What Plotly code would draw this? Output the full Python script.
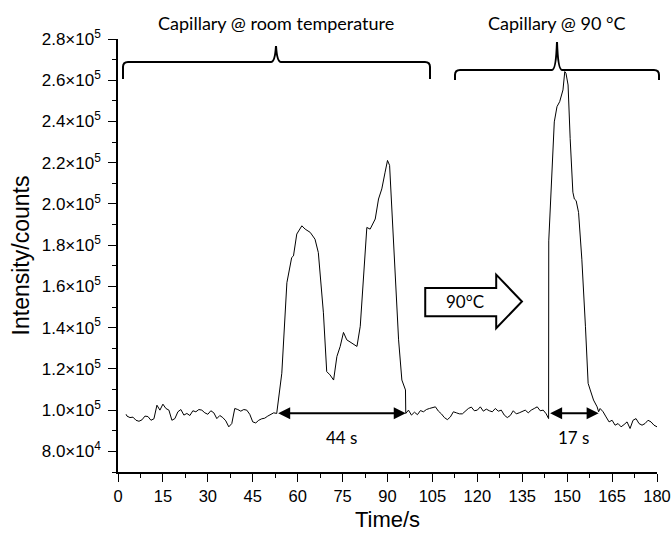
import plotly.graph_objects as go

# ---- data (time in s, intensity in counts) ----
time_s = [2.7, 3, 4, 5, 6, 7, 8, 9, 10, 11, 12, 13, 14, 15, 16, 17, 18, 19, 20,
          21, 22, 23, 24, 25, 26, 27, 28, 29, 30, 31, 32, 33, 34, 35, 36, 37, 38,
          39, 40, 41, 42, 43, 44, 45, 46, 47, 48, 49, 50, 51, 52, 53,
          54.7, 56.4, 58.0, 58.6, 59.7, 61.4, 62.5, 64.2, 65.8, 66.9, 67.5, 68.6,
          69.7, 70.8, 72.0, 73.1, 74.2, 75.3, 76.4, 78.1, 79.8, 80.9, 82.0, 83.1,
          84.2, 85.9, 87.0, 88.1, 89.2, 90.0, 90.7, 91.4, 92.6, 93.7, 94.8, 95.6,
          96.0, 96.1, 97, 98, 99, 100, 101, 102, 103, 104, 105, 106, 107, 108,
          109, 110, 111, 112, 113, 114, 115, 116, 117, 118, 119, 120, 121, 122,
          123, 124, 125, 126, 127, 128, 129, 130, 131, 132, 133, 134, 135, 136,
          137, 138, 139, 140, 141, 142, 143, 143.8, 143.85,
          145.7, 146.6, 147.5, 148.6, 149.2, 149.6, 150.3, 151.0, 151.9, 152.4,
          153.0, 153.8, 154.9, 156.1, 157.0, 157.7, 158.8, 160.0, 160.5,
          161, 162, 163, 164, 165, 166, 167, 168, 169, 170, 171, 172, 173, 174,
          175, 176, 177, 178, 179, 180]

intensity_k = [98.0, 97.1, 96.4, 96.6, 95.1, 94.6, 95.3, 97.1, 96.9, 95.1, 95.8,
               102.4, 100.0, 102.9, 100.8, 100.0, 95.1, 95.9, 99.2, 100.3, 97.6,
               98.4, 97.4, 99.7, 99.2, 100.3, 100.0, 98.7, 98.0, 99.7, 98.7, 95.9,
               97.4, 96.4, 94.8, 91.9, 93.5, 100.8, 100.3, 99.5, 100.3, 100.0,
               98.0, 94.3, 93.8, 95.1, 95.8, 96.1, 97.1, 98.0, 98.7, 98.4,
               117.9, 161.8, 174.0, 174.8, 185.4, 189.4, 187.8, 186.2, 182.9,
               176.4, 166.7, 147.2, 118.7, 117.1, 114.6, 126.0, 130.9, 137.7,
               134.1, 132.5, 130.9, 140.7, 166.7, 188.6, 187.8, 192.7, 202.4,
               207.3, 215.4, 221.1, 218.7, 199.2, 163.4, 134.1, 114.6, 111.4,
               109.8, 98.4, 100.0, 97.6, 99.0, 97.8, 99.8, 99.2, 100.3, 100.8,
               101.3, 101.6, 99.5, 98.2, 96.4, 95.4, 96.7, 99.2, 98.7, 98.2, 98.2,
               99.7, 100.8, 101.5, 99.7, 100.0, 101.6, 99.5, 100.5, 99.7, 99.2,
               100.8, 99.5, 100.0, 97.6, 96.4, 97.4, 99.7, 98.2, 98.7, 99.2,
               100.0, 98.7, 100.0, 100.8, 101.6, 99.7, 100.0, 98.2, 95.9, 182.1,
               239.8, 247.2, 249.6, 255.3, 264.2, 263.4, 257.7, 231.7, 205.7,
               202.4, 201.6, 195.9, 173.2, 140.7, 113.0, 109.8, 104.9, 101.6,
               99.2, 100.8, 99.2, 96.7, 94.3, 95.1, 92.7, 93.5, 91.9, 93.0, 94.3,
               91.1, 95.1, 95.9, 93.5, 92.7, 93.5, 95.1, 94.3, 92.7, 91.9]

x_ticks = [0, 15, 30, 45, 60, 75, 90, 105, 120, 135, 150, 165, 180]
y_ticks = [80000, 100000, 120000, 140000, 160000, 180000, 200000, 220000,
           240000, 260000, 280000]
y_ticktext = ["8.0×10<sup>4</sup>", "1.0×10<sup>5</sup>", "1.2×10<sup>5</sup>",
              "1.4×10<sup>5</sup>", "1.6×10<sup>5</sup>", "1.8×10<sup>5</sup>",
              "2.0×10<sup>5</sup>", "2.2×10<sup>5</sup>", "2.4×10<sup>5</sup>",
              "2.6×10<sup>5</sup>", "2.8×10<sup>5</sup>"]

# width annotations: (start, end, label)
widths = [(53.0, 96.1, "44 s"), (143.8, 160.5, "17 s")]
region_labels = ["Capillary @ room temperature", "Capillary @ 90 °C"]

intensity = [v * 1000 for v in intensity_k]

fig = go.Figure()
fig.add_trace(go.Scatter(x=time_s, y=intensity, mode="lines",
                         line=dict(color="black", width=1), showlegend=False,
                         hoverinfo="skip"))

AX_FONT = "Liberation Sans, Arial, sans-serif"
ANN_FONT = "Lato, Open Sans, sans-serif"

fig.update_layout(
    width=671, height=537,
    margin=dict(l=118, r=14, t=39, b=65),
    paper_bgcolor="white", plot_bgcolor="white",
    font=dict(family=AX_FONT, color="black"),
    xaxis=dict(range=[0, 180], tickvals=x_ticks, ticks="outside", ticklen=8,
               tickwidth=1.2, tickcolor="black", showline=True, linecolor="black",
               linewidth=1.5, showgrid=False, zeroline=False, automargin=False,
               ticklabeloverflow="allow",
               tickfont=dict(size=16.5, family=AX_FONT),
               minor=dict(dtick=7.5, tick0=0, ticks="outside", ticklen=4,
                          tickcolor="black", showgrid=False),
               title=dict(text="Time/s", font=dict(size=22, family=AX_FONT),
                          standoff=8)),
    yaxis=dict(range=[70000, 280000], tickvals=y_ticks, ticktext=y_ticktext,
               ticks="outside", ticklen=8, tickwidth=1.2, tickcolor="black",
               showline=True, linecolor="black", linewidth=1.5, showgrid=False,
               zeroline=False, automargin=False, ticklabeloverflow="allow",
               ticklabelstandoff=4,
               tickfont=dict(size=17, family=AX_FONT),
               minor=dict(dtick=10000, tick0=0, ticks="outside", ticklen=4,
                          tickcolor="black", showgrid=False),
               title=dict(text="Intensity/counts",
                          font=dict(size=23, family=AX_FONT), standoff=6)),
)

# double-headed width arrows and their labels
for start, end, label in widths:
    fig.add_annotation(x=end, y=98500, ax=start, ay=98500, xref="x", yref="y",
                       axref="x", ayref="y", text="", showarrow=True,
                       arrowhead=2, arrowside="end+start", arrowsize=1.2,
                       arrowwidth=2, arrowcolor="black", standoff=0, startstandoff=0)
    fig.add_annotation(x=(start + end) / 2, y=86500, xref="x", yref="y",
                       text=label, showarrow=False, xanchor="center",
                       font=dict(size=17, family=ANN_FONT, color="black"))

# paper-coordinate helpers from window pixel positions
L, R, T, B = 118, 657, 39, 472
def px(x):
    return (x - L) / (R - L)
def py(y):
    return (B - y) / (B - T)

def brace(x0, x1, xm, yh, ye, ytip):
    r = 5
    pts = [
        f"M {px(x0)},{py(ye)}",
        f"L {px(x0)},{py(yh + r)}",
        f"Q {px(x0)},{py(yh)} {px(x0 + r)},{py(yh)}",
        f"L {px(xm - 5)},{py(yh)}",
        f"Q {px(xm - 1)},{py(yh)} {px(xm)},{py(ytip)}",
        f"Q {px(xm + 1)},{py(yh)} {px(xm + 5)},{py(yh)}",
        f"L {px(x1 - r)},{py(yh)}",
        f"Q {px(x1)},{py(yh)} {px(x1)},{py(yh + r)}",
        f"L {px(x1)},{py(ye)}",
    ]
    return " ".join(pts)

fig.add_shape(type="path", xref="paper", yref="paper",
              path=brace(123, 430, 276, 62, 79, 46),
              line=dict(color="black", width=2))
fig.add_shape(type="path", xref="paper", yref="paper",
              path=brace(455, 659, 557, 70, 80, 42),
              line=dict(color="black", width=2))
fig.add_annotation(x=px(276), y=py(23), xref="paper", yref="paper",
                   text=region_labels[0], showarrow=False, xanchor="center",
                   yanchor="middle",
                   font=dict(size=18, family=ANN_FONT, color="black"))
fig.add_annotation(x=px(556), y=py(23), xref="paper", yref="paper",
                   text=region_labels[1], showarrow=False, xanchor="center",
                   yanchor="middle",
                   font=dict(size=18, family=ANN_FONT, color="black"))

# big block arrow "90°C"
ax0, ax1, atip = 102.6, 126.3, 134.9
fig.add_shape(type="path", xref="x", yref="y",
              path=(f"M {ax0},145500 L {ax1},145500 L {ax1},139700 L {atip},152700 "
                    f"L {ax1},165700 L {ax1},159200 L {ax0},159200 Z"),
              fillcolor="white", line=dict(color="black", width=2))
fig.add_annotation(x=116, y=152700, xref="x", yref="y", text="90°C",
                   showarrow=False, xanchor="center",
                   font=dict(size=17, family=ANN_FONT, color="black"))

# remove the default 8px page margin so the figure fills the window exactly
fig.write_html("out.html",
               config={"displayModeBar": False},
               post_script="document.body.style.margin='0';"
                           "document.body.style.overflow='hidden';")
